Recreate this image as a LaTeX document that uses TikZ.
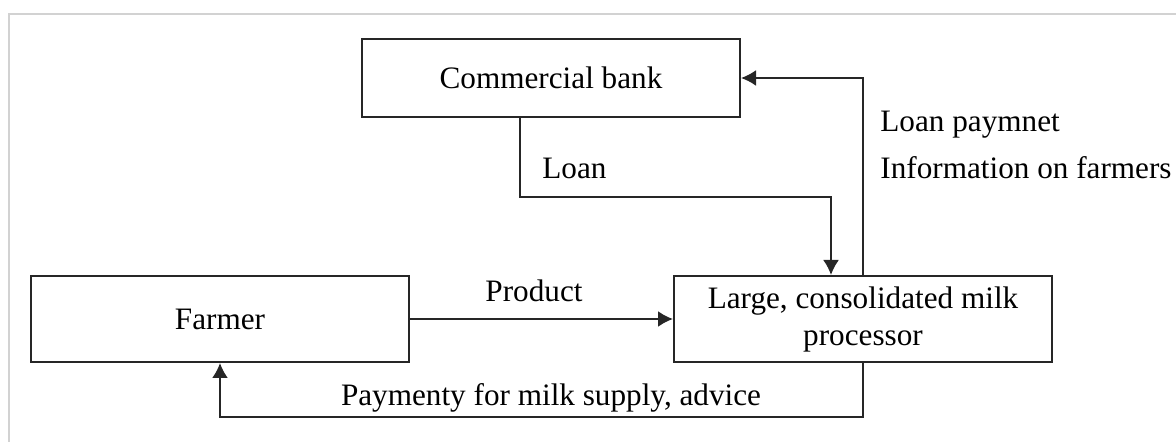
\documentclass[tikz,border=0pt]{standalone}
\usepackage{fontspec}
\setmainfont{Liberation Serif}
\usetikzlibrary{arrows.meta,calc,positioning}

\begin{document}
\begin{tikzpicture}[x=0.5pt,y=-0.5pt,
  block/.style={rectangle,draw=black!85,line width=1pt,minimum width=189pt,inner sep=0,align=center,font=\fontsize{15.6}{18.5}\selectfont},
  lbl/.style={inner sep=0,font=\fontsize{15.6}{18.5}\selectfont},
  flow/.style={draw=black!85,line width=1pt,-{Latex[length=7.5pt,width=8pt]}}]

\useasboundingbox (0,0) rectangle (1176,442);
\draw[gray!35,line width=0.8pt] (1176,14) -| (9,442);

% Nodes
\node[block,minimum height=39pt] (bank) at (551,78) {Commercial bank};
\node[block,minimum height=43pt] (farmer) at (220,319) {Farmer};
\node[block,minimum height=43pt] (proc) at (863,319) {Large, consolidated milk\\processor};

\coordinate (loanknee) at (831,197);
\coordinate (payknee) at (220,417);

% labels
\node[lbl,anchor=west] (loan) at (542,168) {Loan};
\node[lbl,anchor=west] (repay) at (880,125) {Loan paymnet};
\node[lbl,anchor=west] (info) at (880,168) {Information on farmers};
\node[lbl] (product) at (534,291) {Product};
\node[lbl] (payment) at (551,398) {Paymenty for milk supply, advice};

%arcs
\draw[flow] ([xshift=-15.5pt]bank.south) |- (loanknee) -- (loanknee |- proc.north);
\draw[flow] (proc.north) |- (bank.east);
\path (farmer) edge[flow] (proc);
\draw[flow] (proc.south) |- (payknee) -- (farmer.south);

\end{tikzpicture}
\end{document}
